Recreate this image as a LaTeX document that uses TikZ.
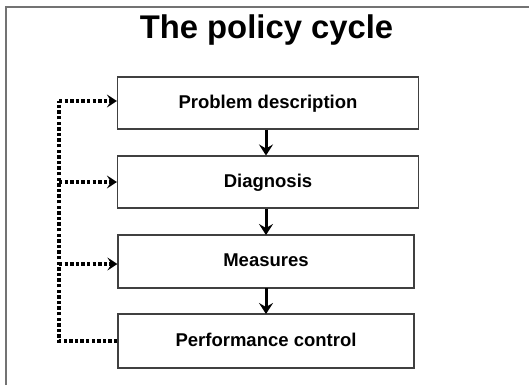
\documentclass[tikz,border=0pt]{standalone}
\usepackage{fontspec}
\setmainfont{Liberation Sans}
\usetikzlibrary{arrows.meta}
\begin{document}
\begin{tikzpicture}[x=1pt,y=-1pt,
  stepbox/.style={draw=black!75,line width=1.2pt,fill=white,inner sep=0pt,text height=13.5pt,text depth=3.5pt,font=\bfseries\fontsize{18.5}{20}\selectfont},
  flow/.style={line width=3pt,-{Stealth[length=11pt,width=14pt,inset=4pt]}},
  fb/.style={line width=3.2pt,dash pattern=on 3.4pt off 2.2pt},
  fbarrow/.style={fb,-{Stealth[length=10pt,width=13pt,inset=4pt]}}]
\useasboundingbox (0,0) rectangle (529,385);
\draw[black!55,line width=1.4pt] (6,385) -- (6,7) -- (529,7);
\node[font=\bfseries\fontsize{32.8}{36}\selectfont] (title) at (266.5,30) {The policy cycle};
\node[stepbox,minimum width=301pt,minimum height=52pt] (b1) at (268,103) {Problem description};
\node[stepbox,minimum width=301pt,minimum height=52pt] (b2) at (268,182) {Diagnosis};
\node[stepbox,minimum width=296pt,minimum height=53pt] (b3) at (266,261.5) {Measures};
\node[stepbox,minimum width=296pt,minimum height=54pt] (b4) at (266,341) {Performance control};
\coordinate (L1) at (59,101);
\coordinate (L2) at (59,182);
\coordinate (L3) at (59,264);
\coordinate (L4) at (59,341);
\draw[flow] (266,129.5) -- (266,155.5);
\draw[flow] (266,208.5) -- (266,235);
\draw[flow] (266,288) -- (266,314);
\draw[fb] (b4.west) -- (L4) -- (L1);
\draw[fbarrow] (L1) -- (b1.west |- L1);
\draw[fbarrow] (L2) -- (b2.west |- L2);
\draw[fbarrow] (L3) -- (b3.west |- L3);
\end{tikzpicture}
\end{document}
